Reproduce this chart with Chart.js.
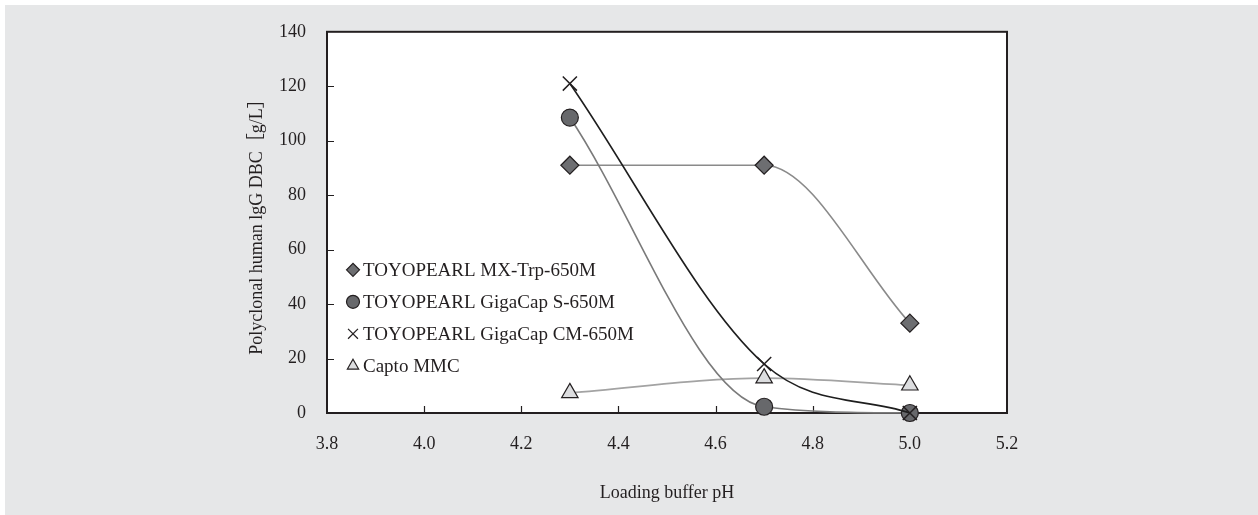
<!DOCTYPE html>
<html>
<head>
<meta charset="utf-8">
<script src="https://cdn.jsdelivr.net/npm/chart.js@4.4.1/dist/chart.umd.min.js"></script>
<style>
  html, body { margin: 0; padding: 0; background: #fff; }
  #marco { width: 1258px; height: 515px; }
</style>
</head>
<body>
<div id="marco"><canvas id="grafico" width="1258" height="515"></canvas></div>
<script>
// datos
const phCarga = [4.3, 4.7, 5.0];
const mxTrp = [91, 91, 33];
const gigaCapS = [108.5, 2.3, 0];
const gigaCapCM = [121, 18, 0];
const captoMMC = [7.4, 12.8, 10.2];
const nombres = [
  "TOYOPEARL MX-Trp-650M",
  "TOYOPEARL GigaCap S-650M",
  "TOYOPEARL GigaCap CM-650M",
  "Capto MMC"
];
const ticksX = [3.8, 4.0, 4.2, 4.4, 4.6, 4.8, 5.0, 5.2];
const ticksY = [0, 20, 40, 60, 80, 100, 120, 140];

const FUENTE = "'Liberation Serif', 'Noto Sans CJK JP', serif";
const TINTA = "#231f20";

function puntos(valores) {
  return phCarga.map((x, i) => ({ x: x, y: valores[i] }));
}

// fondo gris, area blanca, marco y ticks hacia adentro
const fondo = {
  id: "fondo",
  beforeDraw(chart) {
    const { ctx, chartArea: a } = chart;
    ctx.save();
    ctx.fillStyle = "#ffffff";
    ctx.fillRect(0, 0, chart.width, chart.height);
    ctx.fillStyle = "#e6e7e8";
    ctx.fillRect(5, 5, chart.width - 5, chart.height - 5);
    ctx.fillStyle = "#ffffff";
    ctx.fillRect(a.left, a.top, a.right - a.left, a.bottom - a.top);
    ctx.restore();
  },
  beforeDatasetsDraw(chart) {
    const { ctx, chartArea: a, scales } = chart;
    ctx.save();
    ctx.strokeStyle = TINTA;
    ctx.lineWidth = 2;
    ctx.strokeRect(a.left, a.top, a.right - a.left, a.bottom - a.top);
    ctx.lineWidth = 1.2;
    ctx.beginPath();
    scales.y.ticks.forEach(t => {
      if (t.value <= scales.y.min || t.value >= scales.y.max) return;
      const y = Math.round(scales.y.getPixelForValue(t.value)) + 0.5;
      ctx.moveTo(a.left, y);
      ctx.lineTo(a.left + 7, y);
    });
    scales.x.ticks.forEach(t => {
      if (t.value <= scales.x.min + 1e-9 || t.value >= scales.x.max - 1e-9) return;
      const x = Math.round(scales.x.getPixelForValue(t.value)) + 0.5;
      ctx.moveTo(x, a.bottom);
      ctx.lineTo(x, a.bottom - 7);
    });
    ctx.stroke();
    ctx.restore();
  }
};

// leyenda dentro del area de trazado
const leyenda = {
  id: "leyenda",
  afterDatasetsDraw(chart) {
    const { ctx, chartArea: a } = chart;
    ctx.save();
    ctx.font = "19px " + FUENTE;
    ctx.textBaseline = "middle";
    chart.data.datasets.forEach((ds, i) => {
      const y = a.top + 238 + i * 32;
      const x = a.left + 26;
      ctx.fillStyle = ds.pointBackgroundColor;
      ctx.strokeStyle = ds.pointBorderColor;
      ctx.lineWidth = 1.2;
      Chart.helpers.drawPoint(ctx, {
        pointStyle: ds.pointStyle,
        radius: ds.pointStyle === "crossRot" ? 7 : 6.5,
        rotation: 0,
        borderWidth: 1.2
      }, x, y);
      ctx.fillStyle = TINTA;
      ctx.fillText(ds.label, a.left + 36, y + 1);
    });
    ctx.restore();
  }
};

Chart.defaults.font.family = FUENTE;
Chart.defaults.color = TINTA;

new Chart(document.getElementById("grafico"), {
  type: "line",
  data: {
    datasets: [
      {
        label: nombres[0],
        data: puntos(mxTrp),
        borderColor: "#8a8a8a",
        borderWidth: 1.6,
        pointStyle: "rectRot",
        pointRadius: 9,
        pointBackgroundColor: "#6d6e71",
        pointBorderColor: TINTA,
        pointBorderWidth: 1.2,
        order: 2
      },
      {
        label: nombres[1],
        data: puntos(gigaCapS),
        borderColor: "#7a7a7a",
        borderWidth: 1.6,
        pointStyle: "circle",
        pointRadius: 8.5,
        pointBackgroundColor: "#67686b",
        pointBorderColor: TINTA,
        pointBorderWidth: 1.2,
        order: 1
      },
      {
        label: nombres[2],
        data: puntos(gigaCapCM),
        borderColor: "#1e1e1e",
        borderWidth: 1.6,
        pointStyle: "crossRot",
        pointRadius: 10,
        pointBackgroundColor: "#ffffff",
        pointBorderColor: TINTA,
        pointBorderWidth: 1.5,
        order: 0
      },
      {
        label: nombres[3],
        data: puntos(captoMMC),
        borderColor: "#a3a3a3",
        borderWidth: 1.6,
        pointStyle: "triangle",
        pointRadius: 9.5,
        pointBackgroundColor: "#dcdddf",
        pointBorderColor: TINTA,
        pointBorderWidth: 1.2,
        order: 3
      }
    ]
  },
  options: {
    responsive: false,
    animation: false,
    clip: false,
    cubicInterpolationMode: "monotone",
    layout: { padding: { left: 246, right: 251, top: 29, bottom: 11 } },
    plugins: {
      legend: { display: false },
      tooltip: { enabled: false }
    },
    scales: {
      x: {
        type: "linear",
        min: 3.8,
        max: 5.2,
        afterBuildTicks: s => { s.ticks = ticksX.map(v => ({ value: v })); },
        afterFit: s => { s.height = 91; },
        grid: { display: false, drawTicks: false },
        border: { display: false },
        ticks: {
          padding: 20,
          font: { size: 18 },
          callback: v => Number(v).toFixed(1)
        },
        title: {
          display: true,
          text: "Loading buffer pH",
          font: { size: 18 },
          padding: 0
        }
      },
      y: {
        type: "linear",
        min: 0,
        max: 140,
        afterBuildTicks: s => { s.ticks = ticksY.map(v => ({ value: v })); },
        afterFit: s => { s.width = 81; },
        grid: { display: false, drawTicks: false },
        border: { display: false },
        ticks: {
          padding: 21,
          font: { size: 18 }
        },
        title: {
          display: true,
          text: "Polyclonal human lgG DBC［g/L］",
          font: { size: 18 },
          padding: 0
        }
      }
    }
  },
  plugins: [fondo, leyenda]
});
</script>
</body>
</html>
